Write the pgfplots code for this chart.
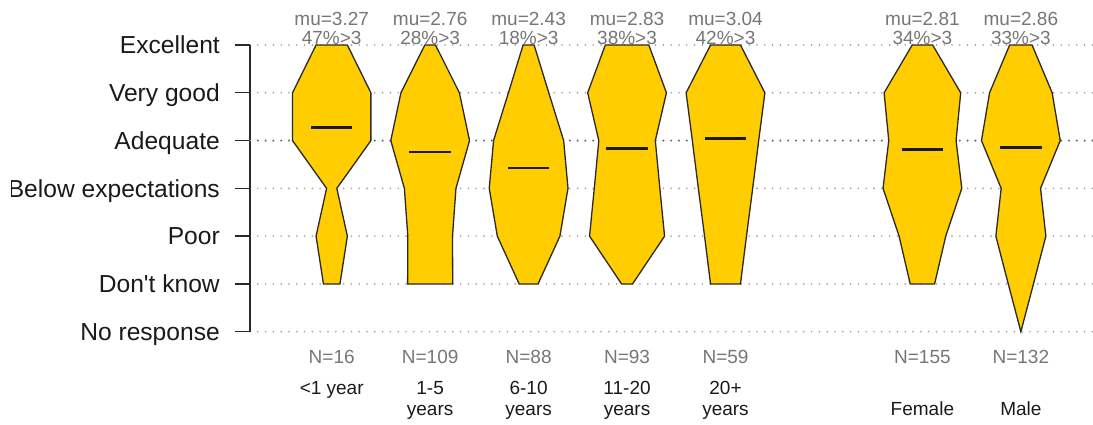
\documentclass[border=0pt]{standalone}
\usepackage{fontspec}
\setmainfont{Liberation Sans}
\usepackage{pgfplots}
\pgfplotsset{compat=1.18}
\definecolor{violin}{HTML}{FFCD00}
\definecolor{gridc}{HTML}{9A9A9A}
\definecolor{labgray}{HTML}{767676}
\definecolor{axc}{HTML}{2A2A2A}
\definecolor{labc}{HTML}{1A1A1A}
\newcommand\sm{\fontsize{19}{21}\selectfont}
\begin{document}
\begin{tikzpicture}
\begin{scope}
\clip (11pt,0pt) rectangle (1093pt,425pt);
\begin{axis}[
  at={(250pt,93.3pt)}, anchor=south west,
  x=98.45pt, y=47.78pt,
  xmin=0.17, xmax=8.75, ymin=-1, ymax=5,
  axis y line*=left, axis x line=none,
  y axis line style={color=axc, line width=1.4pt},
  ytick={-1,0,1,2,3,4,5},
  yticklabels={No response,Don\textquotesingle t know,Poor,Below expectations,Adequate,Very good,Excellent},
  tick align=outside, major tick length=15pt,
  ytick style={color=axc, line width=1.4pt},
  yticklabel style={font=\fontsize{24.6}{29}\selectfont, text=labc, anchor=base east, inner sep=0pt, yshift=-8.8pt, xshift=-15pt},
  ymajorgrids,
  grid style={gridc, line width=1.8pt, line cap=round, dash pattern=on 0pt off 7.8pt},
  clip=false,
]
% darker Adequate gridline
\draw[gridc!70!black, line width=2.2pt, line cap=round, dash pattern=on 0pt off 7.8pt] (axis cs:0.17,3) -- (axis cs:8.75,3);

% violins
\addplot[fill=violin, draw=axc, line width=1.3pt] coordinates {
 (0.916,0) (0.841,1) (0.948,2) (0.602,3) (0.602,4) (0.841,5)
 (1.159,5) (1.398,4) (1.398,3) (1.052,2) (1.159,1) (1.084,0)} -- cycle;
\addplot[fill=violin, draw=axc, line width=1.3pt] coordinates {
 (1.771,0) (1.773,1) (1.738,2) (1.600,3) (1.703,4) (1.946,5)
 (2.054,5) (2.297,4) (2.400,3) (2.262,2) (2.227,1) (2.229,0)} -- cycle;
\addplot[fill=violin, draw=axc, line width=1.3pt] coordinates {
 (2.904,0) (2.682,1) (2.600,2) (2.644,3) (2.795,4) (2.944,5)
 (3.056,5) (3.205,4) (3.356,3) (3.400,2) (3.318,1) (3.096,0)} -- cycle;
\addplot[fill=violin, draw=axc, line width=1.3pt] coordinates {
 (3.944,0) (3.619,1) (3.667,2) (3.713,3) (3.600,4) (3.779,5)
 (4.221,5) (4.400,4) (4.287,3) (4.333,2) (4.381,1) (4.056,0)} -- cycle;
\addplot[fill=violin, draw=axc, line width=1.3pt] coordinates {
 (4.848,0) (4.787,1) (4.724,2) (4.663,3) (4.600,4) (4.848,5)
 (5.152,5) (5.400,4) (5.337,3) (5.276,2) (5.213,1) (5.152,0)} -- cycle;
\addplot[fill=violin, draw=axc, line width=1.3pt] coordinates {
 (6.876,0) (6.763,1) (6.600,2) (6.658,3) (6.611,4) (6.896,5)
 (7.104,5) (7.389,4) (7.342,3) (7.400,2) (7.237,1) (7.124,0)} -- cycle;
\addplot[fill=violin, draw=axc, line width=1.3pt] coordinates {
 (8.000,-1) (7.872,0) (7.746,1) (7.800,2) (7.600,3) (7.682,4) (7.886,5)
 (8.114,5) (8.318,4) (8.400,3) (8.200,2) (8.254,1) (8.128,0)} -- cycle;

% mean lines
\addplot[labc, line width=2.6pt] coordinates {(0.79,3.27) (1.21,3.27)};
\addplot[labc, line width=2.6pt] coordinates {(1.79,2.76) (2.21,2.76)};
\addplot[labc, line width=2.6pt] coordinates {(2.79,2.43) (3.21,2.43)};
\addplot[labc, line width=2.6pt] coordinates {(3.79,2.83) (4.21,2.83)};
\addplot[labc, line width=2.6pt] coordinates {(4.79,3.04) (5.21,3.04)};
\addplot[labc, line width=2.6pt] coordinates {(6.79,2.81) (7.21,2.81)};
\addplot[labc, line width=2.6pt] coordinates {(7.79,2.86) (8.21,2.86)};

% top annotations
\foreach \xx/\mu/\pc in {1/3.27/47,2/2.76/28,3/2.43/18,4/2.83/38,5/3.04/42,7/2.81/34,8/2.86/33}{
  \edef\temp{\noexpand\node[anchor=base, inner sep=0pt, text=labgray, font=\noexpand\sm] at (axis cs:\xx,5.398) {mu=\mu};
  \noexpand\node[anchor=base, inner sep=0pt, text=labgray, font=\noexpand\sm] at (axis cs:\xx,5.015) {\pc\noexpand\%>3};}
  \temp
}
% bottom annotations
\foreach \xx/\n in {1/16,2/109,3/88,4/93,5/59,7/155,8/132}{
  \edef\temp{\noexpand\node[anchor=base, inner sep=0pt, text=labgray, font=\noexpand\sm] at (axis cs:\xx,-1.661) {N=\n};}
  \temp
}
\node[anchor=base, inner sep=0pt, text=labc, font=\sm] at (axis cs:1,-2.31) {<1 year};
\node[anchor=base, inner sep=0pt, text=labc, font=\sm] at (axis cs:2,-2.31) {1-5};
\node[anchor=base, inner sep=0pt, text=labc, font=\sm] at (axis cs:2,-2.764) {years};
\node[anchor=base, inner sep=0pt, text=labc, font=\sm] at (axis cs:3,-2.31) {6-10};
\node[anchor=base, inner sep=0pt, text=labc, font=\sm] at (axis cs:3,-2.764) {years};
\node[anchor=base, inner sep=0pt, text=labc, font=\sm] at (axis cs:4,-2.31) {11-20};
\node[anchor=base, inner sep=0pt, text=labc, font=\sm] at (axis cs:4,-2.764) {years};
\node[anchor=base, inner sep=0pt, text=labc, font=\sm] at (axis cs:5,-2.31) {20+};
\node[anchor=base, inner sep=0pt, text=labc, font=\sm] at (axis cs:5,-2.764) {years};
\node[anchor=base, inner sep=0pt, text=labc, font=\sm] at (axis cs:7,-2.764) {Female};
\node[anchor=base, inner sep=0pt, text=labc, font=\sm] at (axis cs:8,-2.764) {Male};
\end{axis}
\end{scope}
\pgfresetboundingbox
\useasboundingbox (0pt,0pt) rectangle (1093pt,425pt);
\end{tikzpicture}
\end{document}
